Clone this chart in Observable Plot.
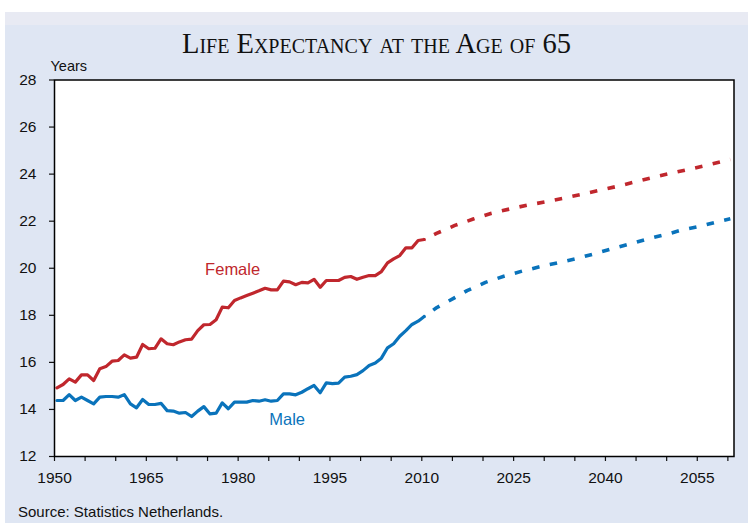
<!DOCTYPE html>
<html><head><meta charset="utf-8">
<script src="https://cdn.jsdelivr.net/npm/d3@7"></script>
<script src="https://cdn.jsdelivr.net/npm/@observablehq/plot@0.6"></script>
<style>
body{margin:0;background:#fff;width:748px;height:525px;overflow:hidden;position:relative;font-family:"Liberation Sans",Arial,sans-serif;}
#panel{position:absolute;left:5px;top:12px;width:743px;height:511px;background:#dfe6f3;}
#band{position:absolute;left:5px;top:12px;width:743px;height:13px;background:#e8eaf3;}
#title{position:absolute;left:5px;width:743px;top:30px;text-align:center;font-family:"Liberation Serif",serif;font-size:28.5px;font-variant:small-caps;color:#111;line-height:1;}
#chart{position:absolute;left:0;top:0;}
#caption{position:absolute;left:18px;top:504px;font-size:15px;color:#111;line-height:1;}
</style></head>
<body>
<div id="panel"></div><div id="band"></div>
<div id="title">Life Expectancy at the Age of 65</div>
<div id="chart"></div>
<div id="caption">Source: Statistics Netherlands.</div>
<script>
// Historical data (1950-2010)
const histYears = d3.range(1950, 2011);
const femaleHist = [14.92,15.06,15.30,15.16,15.47,15.47,15.23,15.73,15.82,16.05,
  16.08,16.32,16.18,16.22,16.76,16.58,16.60,17.00,16.79,16.75,
  16.87,16.96,16.99,17.35,17.60,17.61,17.81,18.35,18.32,18.63,
  18.74,18.84,18.94,19.04,19.15,19.08,19.08,19.45,19.42,19.30,
  19.40,19.38,19.53,19.19,19.48,19.48,19.48,19.61,19.65,19.53,
  19.62,19.69,19.69,19.86,20.23,20.40,20.54,20.87,20.87,21.18,21.22];
const maleHist = [14.38,14.38,14.63,14.38,14.52,14.38,14.24,14.52,14.55,14.55,
  14.52,14.63,14.24,14.07,14.42,14.21,14.21,14.26,13.95,13.93,
  13.84,13.87,13.70,13.93,14.12,13.81,13.84,14.28,14.03,14.31,
  14.31,14.31,14.38,14.35,14.41,14.35,14.38,14.66,14.66,14.62,
  14.73,14.88,15.02,14.71,15.13,15.10,15.12,15.37,15.41,15.48,
  15.65,15.87,15.97,16.18,16.62,16.79,17.11,17.35,17.61,17.75,17.95];
// Projections (2010-2060)
const femaleProjYears = [2010,2012,2015,2018,2021,2024,2027,2030,2033,2036,2039,2042,2045,2048,2051,2054,2057,2060];
const femaleProj = [21.22,21.48,21.82,22.09,22.34,22.52,22.69,22.83,22.99,23.16,23.33,23.51,23.71,23.90,24.08,24.25,24.43,24.62];
const maleProjYears = [2010,2012,2015,2017,2020,2023,2026,2029,2032,2035,2038,2041,2044,2047,2050,2052,2055,2058,2060];
const maleProj = [17.95,18.32,18.75,19.05,19.40,19.66,19.88,20.07,20.24,20.42,20.63,20.85,21.06,21.28,21.47,21.62,21.78,21.98,22.10];
// Tick settings
const xTicks = d3.range(1950, 2061, 5);
const xLabelYears = [1950,1965,1980,1995,2010,2025,2040,2055];
const yTicks = d3.range(12, 29, 2);
// Series labels
const seriesNames = ["Female","Male"];
const labelYears = [1979.1, 1988.0];
const labelValues = [19.95, 13.55];
const colors = {Female:"#c0272d", Male:"#0a73bb"};

const femH = histYears.map((y,i)=>({year:y, value:femaleHist[i]}));
const malH = histYears.map((y,i)=>({year:y, value:maleHist[i]}));
const femP = femaleProjYears.map((y,i)=>({year:y, value:femaleProj[i]}));
const malP = maleProjYears.map((y,i)=>({year:y, value:maleProj[i]}));
const labels = seriesNames.map((n,i)=>({name:n, year:labelYears[i], value:labelValues[i]}));
const mid = d => d.year + 0.4;

const chart = Plot.plot({
  width: 748, height: 490,
  marginLeft: 54, marginRight: 14.5, marginTop: 79.5, marginBottom: 34,
  style: {background:"transparent", fontFamily:"Liberation Sans, Arial, sans-serif", fontSize:"15.5px", color:"#111", overflow:"visible"},
  x: {domain:[1950, 2061]},
  y: {domain:[12, 28]},
  marks: [
    Plot.frame({fill:"white", stroke:"none"}),
    Plot.line(femH, {x: mid, y:"value", stroke: colors.Female, strokeWidth:3.2}),
    Plot.line(malH, {x: mid, y:"value", stroke: colors.Male, strokeWidth:3.2}),
    Plot.line(femP, {x: mid, y:"value", stroke: colors.Female, strokeWidth:3.6, strokeLinecap:"butt", strokeDasharray:"7.5,10.5", strokeDashoffset:-11}),
    Plot.line(malP, {x: mid, y:"value", stroke: colors.Male, strokeWidth:3.6, strokeLinecap:"butt", strokeDasharray:"7.5,10.5", strokeDashoffset:-11}),
    Plot.text(labels, {x:"year", y:"value", text:"name", fill: d=>colors[d.name], fontSize:16.5}),
    Plot.axisX({ticks: xTicks, tickSize:5, tickPadding:10, label:null, tickFormat: d => xLabelYears.includes(d) ? String(d) : "", stroke:"#111", strokeWidth:1.2}),
    Plot.axisY({ticks: yTicks, tickSize:5, tickPadding:13, label:null, stroke:"#111", strokeWidth:1.2}),
    Plot.text(["Years"], {frameAnchor:"top-left", dx:-4, dy:-19, textAnchor:"start", fontSize:14.5}),
    Plot.frame({stroke:"#000", strokeWidth:1.5})
  ]
});
document.getElementById("chart").appendChild(chart);
</script>
</body></html>
